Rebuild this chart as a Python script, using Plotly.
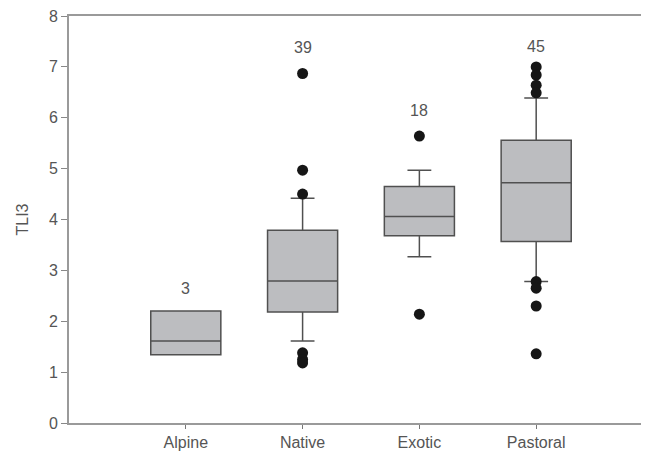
import plotly.graph_objects as go

categories = ["Alpine", "Native", "Exotic", "Pastoral"]
q1 = [1.34, 2.18, 3.68, 3.57]
median = [1.61, 2.79, 4.06, 4.72]
q3 = [2.20, 3.79, 4.65, 5.56]
lower_fence = [1.34, 1.61, 3.27, 2.78]
upper_fence = [2.20, 4.42, 4.97, 6.39]
counts = [3, 39, 18, 45]

outlier_cat = (["Native"] * 6 + ["Exotic"] * 2 + ["Pastoral"] * 8)
outlier_val = [6.87, 4.97, 4.50, 1.38, 1.25, 1.18,
               5.64, 2.14,
               7.00, 6.84, 6.64, 6.49, 2.78, 2.65, 2.30, 1.36]

label_y = [2.65, 7.38, 6.14, 7.41]

FONT = "Liberation Sans, Arial, sans-serif"

fig = go.Figure()
fig.add_trace(go.Box(
    x=categories, q1=q1, median=median, q3=q3,
    lowerfence=lower_fence, upperfence=upper_fence,
    width=0.6, whiskerwidth=0.34,
    fillcolor="#bcbdc0",
    line=dict(color="#505050", width=1.5),
    boxpoints=False, showlegend=False, hoverinfo="skip",
))
fig.add_trace(go.Scatter(
    x=outlier_cat, y=outlier_val, mode="markers",
    marker=dict(color="#161616", size=11),
    showlegend=False, hoverinfo="skip",
))
for c, n, ly in zip(categories, counts, label_y):
    fig.add_annotation(x=c, y=ly, text=str(n), showarrow=False,
                       font=dict(family=FONT, size=16, color="#555555"))

fig.update_layout(
    width=641, height=449,
    margin=dict(l=61, r=0, t=8, b=34),
    paper_bgcolor="white", plot_bgcolor="white",
    font=dict(family=FONT, size=16, color="#555555"),
    xaxis=dict(
        type="category", categoryorder="array", categoryarray=categories,
        range=[-1, 3.966],
        showline=True, linecolor="#9a9a9a", linewidth=2, mirror=True,
        ticks="outside", ticklen=4, tickcolor="#777777", tickwidth=1,
        tickfont=dict(family=FONT, size=16, color="#555555"),
        showgrid=False, zeroline=False,
    ),
    yaxis=dict(
        range=[0, 8], dtick=1,
        showline=True, linecolor="#9a9a9a", linewidth=2,
        ticks="outside", ticklen=6, tickcolor="#888888", tickwidth=1,
        tickfont=dict(family=FONT, size=16, color="#555555"),
        ticklabeloverflow="allow",
        showgrid=False, zeroline=False,
        title=dict(text="TLI3", font=dict(family=FONT, size=16, color="#555555"), standoff=16),
    ),
)
fig.write_html("out.html")
